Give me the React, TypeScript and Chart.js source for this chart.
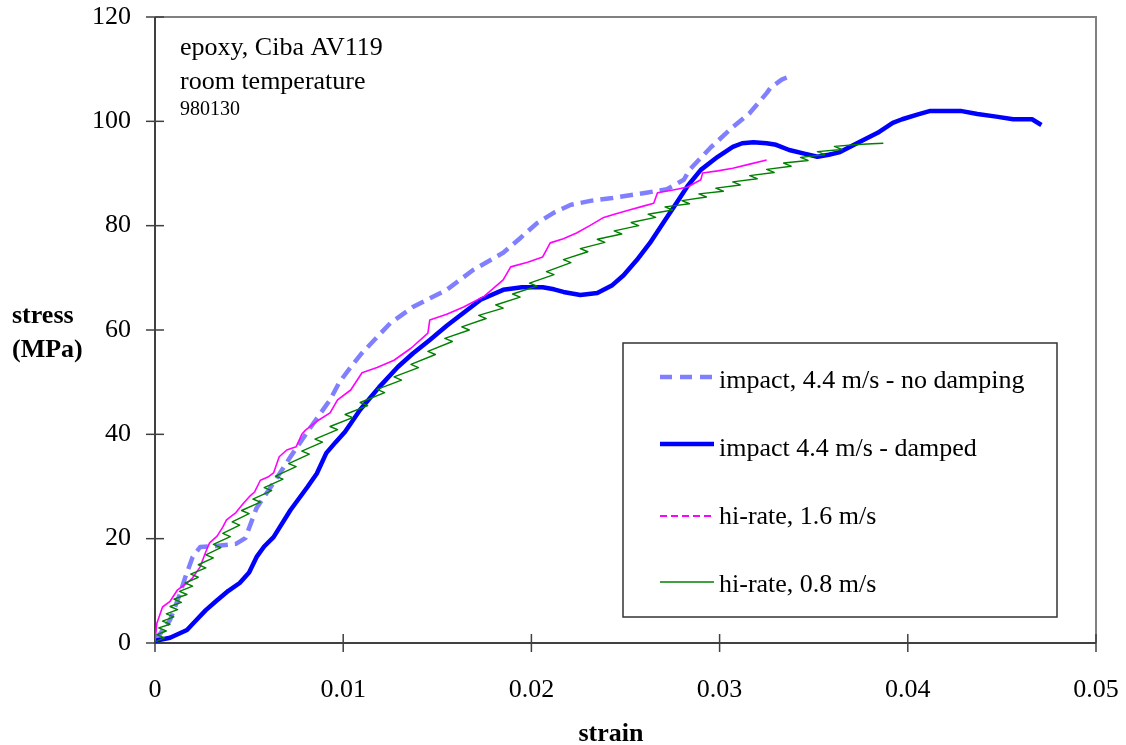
import React, { useEffect, useRef } from "react";
import { Chart, registerables } from "chart.js";

Chart.register(...registerables);

const strainTicks = [0, 0.01, 0.02, 0.03, 0.04, 0.05];
const stressTicks = [0, 20, 40, 60, 80, 100, 120];

const seriesNames = [
  "impact, 4.4 m/s - no damping",
  "impact 4.4 m/s - damped",
  "hi-rate, 1.6 m/s",
  "hi-rate, 0.8 m/s",
];

const noteLines = ["epoxy, Ciba AV119", "room temperature", "980130"];

// [strain, stress MPa]
const impactNoDamping: [number, number][] = [
  [0, 0.4], [0.0008, 4.4], [0.0013, 9.2], [0.0016, 12.5], [0.002, 16.5], [0.0024, 18.4],
  [0.0032, 18.6], [0.0043, 19], [0.0048, 20.1], [0.0054, 25.9], [0.0063, 30.7], [0.0072, 35.7],
  [0.0082, 41], [0.0093, 46.6], [0.0098, 50], [0.0104, 52.9], [0.011, 55.6], [0.0125, 61.3],
  [0.0137, 64.4], [0.0155, 67.7], [0.0169, 71.5], [0.0185, 74.8], [0.0194, 77.6], [0.0203, 80.5],
  [0.0212, 82.5], [0.0221, 84], [0.0232, 84.8], [0.0243, 85.3], [0.0261, 86.3], [0.0272, 87],
  [0.0281, 88.8], [0.0284, 90.7], [0.0295, 94.9], [0.0307, 98.9], [0.0316, 101.6], [0.0325, 105.4],
  [0.0327, 106.4], [0.0333, 108], [0.0339, 108.9],
];

const impactDamped: [number, number][] = [
  [0, 0.4], [0.0008, 1.0], [0.0017, 2.5], [0.0022, 4.4], [0.0027, 6.3], [0.0033, 8.2],
  [0.0039, 10], [0.0045, 11.5], [0.005, 13.5], [0.0054, 16.5], [0.0058, 18.5], [0.0063, 20.3],
  [0.0072, 25.5], [0.0081, 29.9], [0.0086, 32.5], [0.0091, 36.4], [0.0096, 38.5], [0.0101, 40.5],
  [0.0109, 44.7], [0.0119, 49], [0.0129, 52.9], [0.0137, 55.5], [0.0146, 58.1], [0.0155, 60.8],
  [0.0164, 63.3], [0.0173, 65.8], [0.0185, 67.7], [0.0195, 68.2], [0.0206, 68.2], [0.0212, 67.8],
  [0.0217, 67.3], [0.0226, 66.7], [0.0235, 67.1], [0.0243, 68.6], [0.0249, 70.5], [0.0256, 73.4],
  [0.0263, 76.7], [0.027, 80.5], [0.0277, 84.3], [0.0283, 87.6], [0.029, 90.7], [0.0299, 93.2],
  [0.0307, 95.1], [0.0312, 95.8], [0.0318, 96], [0.0325, 95.8], [0.033, 95.5], [0.0337, 94.5],
  [0.0345, 93.8], [0.0352, 93.2], [0.0358, 93.6], [0.0364, 94.1], [0.0373, 95.8], [0.0384, 97.8],
  [0.0392, 99.7], [0.0397, 100.4], [0.0405, 101.3], [0.0412, 102], [0.042, 102], [0.0428, 102],
  [0.0437, 101.4], [0.0447, 100.9], [0.0456, 100.4], [0.0466, 100.4], [0.0471, 99.3],
];

const hiRate16: [number, number][] = [
  [0, 0.3], [0.0001, 3.8], [0.0004, 6.9], [0.0008, 8], [0.0012, 10.2], [0.0017, 11.5],
  [0.002, 12.5], [0.0024, 14.6], [0.0027, 17.5], [0.0029, 19.2], [0.0033, 20.5], [0.0036, 22.2],
  [0.0038, 23.6], [0.0043, 25], [0.0047, 26.8], [0.005, 28], [0.0053, 29], [0.0056, 31.2],
  [0.006, 31.8], [0.0063, 32.6], [0.0066, 35.7], [0.007, 37], [0.0075, 37.6], [0.0078, 40],
  [0.008, 40.8], [0.0086, 42.5], [0.0093, 44.1], [0.0097, 46.6], [0.0104, 48.5], [0.011, 51.8],
  [0.0118, 52.8], [0.0127, 54.2], [0.0136, 56.5], [0.0145, 59.4], [0.0146, 61.9], [0.0155, 63],
  [0.0164, 64.4], [0.0175, 66.5], [0.0185, 69.6], [0.0189, 72.1], [0.0198, 73], [0.0206, 74],
  [0.021, 76.7], [0.0217, 77.5], [0.0224, 78.6], [0.0231, 80], [0.0238, 81.5], [0.0245, 82.3],
  [0.0252, 83], [0.0259, 83.7], [0.0265, 84.3], [0.0267, 86.3], [0.0276, 86.9], [0.0283, 87.4],
  [0.029, 88.8], [0.0291, 90.1], [0.0299, 90.5], [0.0307, 91], [0.0316, 91.8], [0.0325, 92.6],
];

const hiRate08: [number, number][] = [
  [0, 0.2], [0.0005, 1.0], [0.0001, 1.6], [0.0006, 2.3], [0.0002, 2.9], [0.0008, 3.6],
  [0.0004, 4.2], [0.001, 5.0], [0.0006, 5.6], [0.0012, 6.4], [0.0008, 7.0], [0.0014, 7.8],
  [0.001, 8.4], [0.0017, 9.3], [0.0013, 9.9], [0.002, 10.9], [0.0016, 11.5], [0.0023, 12.6],
  [0.0019, 13.2], [0.0027, 14.4], [0.0023, 15.0], [0.0031, 16.3], [0.0027, 16.9], [0.0035, 18.3],
  [0.0031, 18.9], [0.004, 20.4], [0.0036, 21.0], [0.0045, 22.6], [0.0041, 23.2], [0.005, 24.8],
  [0.0046, 25.4], [0.0056, 27.0], [0.0052, 27.6], [0.0062, 29.2], [0.0058, 29.8], [0.0068, 31.4],
  [0.0064, 32.0], [0.0075, 33.8], [0.0071, 34.4], [0.0082, 36.2], [0.0078, 36.8], [0.0089, 38.5],
  [0.0085, 39.1], [0.0097, 40.9], [0.0093, 41.5], [0.0105, 43.2], [0.0101, 43.8], [0.0113, 45.5],
  [0.0109, 46.1], [0.0122, 48.0], [0.0118, 48.6], [0.0131, 50.4], [0.0127, 51.0], [0.014, 52.8],
  [0.0136, 53.4], [0.0149, 55.3], [0.0145, 55.9], [0.0158, 57.8], [0.0154, 58.4], [0.0167, 60.0],
  [0.0163, 60.6], [0.0176, 62.2], [0.0172, 62.8], [0.0185, 64.2], [0.0181, 64.8], [0.0194, 66.3],
  [0.019, 66.9], [0.0203, 68.4], [0.0199, 69.0], [0.0212, 70.6], [0.0208, 71.2], [0.0221, 72.9],
  [0.0217, 73.5], [0.023, 75.0], [0.0226, 75.6], [0.0239, 76.8], [0.0235, 77.4], [0.0248, 78.4],
  [0.0244, 79.0], [0.0257, 80.0], [0.0253, 80.6], [0.0266, 81.6], [0.0262, 82.2], [0.0275, 83.0],
  [0.0271, 83.6], [0.0284, 84.2], [0.028, 84.8], [0.0293, 85.5], [0.0289, 86.1], [0.0302, 86.6],
  [0.0298, 87.2], [0.0311, 87.8], [0.0307, 88.4], [0.032, 89.0], [0.0316, 89.6], [0.0329, 90.2],
  [0.0325, 90.8], [0.0338, 91.4], [0.0334, 92.0], [0.0347, 92.5], [0.0343, 93.1], [0.0356, 93.6],
  [0.0352, 94.2], [0.0365, 94.6], [0.0361, 95.2], [0.0372, 95.5], [0.0376, 95.6], [0.0381, 95.7],
  [0.0387, 95.8],
];

const SERIF = '"Liberation Serif", "Times New Roman", Times, serif';
const COLORS = ["#8080FF", "#0000FF", "#FF00FF", "#008000"];

const toXY = (arr: [number, number][]) => arr.map(([x, y]) => ({ x, y }));

const decorPlugin = {
  id: "decor",
  beforeDatasetsDraw(chart: any) {
    const ctx = chart.ctx as CanvasRenderingContext2D;
    const { left, right, top, bottom } = chart.chartArea;
    const xs = chart.scales.x;
    const ys = chart.scales.y;
    ctx.save();
    ctx.lineCap = "butt";
    ctx.strokeStyle = "#808080";
    ctx.lineWidth = 2;
    ctx.beginPath();
    ctx.moveTo(left, top);
    ctx.lineTo(right, top);
    ctx.lineTo(right, bottom);
    ctx.stroke();
    ctx.strokeStyle = "#404040";
    ctx.beginPath();
    ctx.moveTo(left, top);
    ctx.lineTo(left, bottom);
    ctx.lineTo(right, bottom);
    ctx.stroke();
    ctx.lineWidth = 1.5;
    stressTicks.forEach((v) => {
      const y = ys.getPixelForValue(v);
      ctx.beginPath();
      ctx.moveTo(left - 9, y);
      ctx.lineTo(left + 9, y);
      ctx.stroke();
    });
    strainTicks.forEach((v) => {
      const x = xs.getPixelForValue(v);
      ctx.beginPath();
      ctx.moveTo(x, bottom - 9);
      ctx.lineTo(x, bottom + 9);
      ctx.stroke();
    });
    ctx.restore();
  },
  afterDraw(chart: any) {
    const ctx = chart.ctx as CanvasRenderingContext2D;
    ctx.save();
    ctx.fillStyle = "#000";
    ctx.textBaseline = "alphabetic";
    ctx.textAlign = "left";
    ctx.font = `26px ${SERIF}`;
    ctx.fillText(noteLines[0], 180, 55);
    ctx.fillText(noteLines[1], 180, 89);
    ctx.font = `20px ${SERIF}`;
    ctx.fillText(noteLines[2], 180, 115);
    ctx.font = `bold 26px ${SERIF}`;
    ctx.fillText("stress", 12, 323);
    ctx.fillText("(MPa)", 12, 357);
    ctx.textAlign = "center";
    ctx.fillText("strain", 611, 741);
    const bx = 623, by = 343, bw = 434, bh = 274;
    ctx.fillStyle = "#fff";
    ctx.fillRect(bx, by, bw, bh);
    ctx.strokeStyle = "#333";
    ctx.lineWidth = 1.5;
    ctx.strokeRect(bx, by, bw, bh);
    const lineYs = [377, 444, 516, 582];
    const textYs = [388, 456, 524, 592];
    const widths = [4.5, 4.5, 1.8, 1.5];
    const dashes = [[12, 8], [], [7, 4], []];
    ctx.textAlign = "left";
    ctx.font = `26px ${SERIF}`;
    seriesNames.forEach((name, i) => {
      ctx.strokeStyle = COLORS[i];
      ctx.lineWidth = widths[i];
      ctx.setLineDash(dashes[i]);
      ctx.beginPath();
      ctx.moveTo(660, lineYs[i]);
      ctx.lineTo(714, lineYs[i]);
      ctx.stroke();
      ctx.setLineDash([]);
      ctx.fillStyle = "#000";
      ctx.fillText(name, 719, textYs[i]);
    });
    ctx.restore();
  },
};

const zeroPad = (scale: any) => {
  scale.paddingTop = 0;
  scale.paddingBottom = 0;
  scale.paddingLeft = 0;
  scale.paddingRight = 0;
};

export default function App() {
  const canvasRef = useRef<HTMLCanvasElement | null>(null);

  useEffect(() => {
    if (!canvasRef.current) return;
    const chart = new Chart(canvasRef.current, {
      type: "scatter",
      data: {
        datasets: [
          {
            label: seriesNames[0],
            data: toXY(impactNoDamping),
            showLine: true,
            borderColor: COLORS[0],
            borderWidth: 4.5,
            borderDash: [13, 7],
            pointRadius: 0,
            order: 4,
          },
          {
            label: seriesNames[1],
            data: toXY(impactDamped),
            showLine: true,
            borderColor: COLORS[1],
            borderWidth: 4.5,
            pointRadius: 0,
            order: 3,
          },
          {
            label: seriesNames[2],
            data: toXY(hiRate16),
            showLine: true,
            borderColor: COLORS[2],
            borderWidth: 1.6,
            pointRadius: 0,
            order: 2,
          },
          {
            label: seriesNames[3],
            data: toXY(hiRate08),
            showLine: true,
            borderColor: COLORS[3],
            borderWidth: 1.4,
            pointRadius: 0,
            order: 1,
          },
        ],
      },
      options: {
        animation: false,
        responsive: false,
        devicePixelRatio: 1,
        layout: { padding: { top: 17, right: 30, left: 0, bottom: 0 } },
        plugins: { legend: { display: false }, tooltip: { enabled: false } },
        elements: { point: { radius: 0 }, line: { tension: 0, borderJoinStyle: "round" } },
        scales: {
          x: {
            type: "linear",
            min: 0,
            max: 0.05,
            grid: { display: false, drawTicks: false },
            border: { display: false },
            afterBuildTicks: (scale: any) => {
              scale.ticks = strainTicks.map((v) => ({ value: v }));
            },
            afterFit: (scale: any) => {
              scale.height = 102;
              zeroPad(scale);
            },
            ticks: {
              padding: 32,
              color: "#000",
              maxRotation: 0,
              autoSkip: false,
              font: { family: SERIF, size: 26 },
              callback: (v: any) => (v === 0 ? "0" : String(Number(Number(v).toFixed(2)))),
            },
          },
          y: {
            type: "linear",
            min: 0,
            max: 120,
            grid: { display: false, drawTicks: false },
            border: { display: false },
            afterBuildTicks: (scale: any) => {
              scale.ticks = stressTicks.map((v) => ({ value: v }));
            },
            afterFit: (scale: any) => {
              scale.width = 155;
              zeroPad(scale);
            },
            ticks: {
              padding: 24,
              color: "#000",
              autoSkip: false,
              font: { family: SERIF, size: 26 },
              callback: (v: any) => String(v),
            },
          },
        },
      },
      plugins: [decorPlugin],
    });
    return () => chart.destroy();
  }, []);

  return (
    <div style={{ position: "absolute", left: 0, top: 0, width: 1126, height: 745, background: "#fff" }}>
      <canvas ref={canvasRef} width={1126} height={745} />
    </div>
  );
}
